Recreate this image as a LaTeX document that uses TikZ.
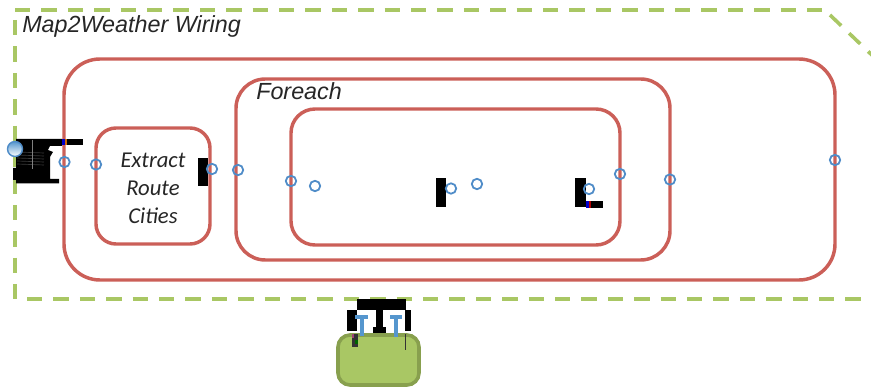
\documentclass[tikz,border=0pt]{standalone}
\usepackage{fontspec}
\setmainfont{Liberation Sans}
\newfontfamily\calfont{Carlito}
\definecolor{redline}{HTML}{CB5F58}
\definecolor{greenline}{HTML}{A9C764}
\definecolor{greendark}{HTML}{88A04E}
\definecolor{bluering}{HTML}{4F8CC8}
\definecolor{blueT}{HTML}{5596CE}
\definecolor{inkdark}{HTML}{262626}
\tikzset{
  px/.style={x=0.75pt,y=-0.75pt},
  frame/.style={draw=redline,line width=2.6pt},
  dashline/.style={greenline,line width=2.7pt,dash pattern=on 11.6pt off 8.2pt},
  port/.style={circle,draw=bluering,line width=1.35pt,fill=none,minimum size=7.8pt,inner sep=0pt},
  blob/.style={fill=black,draw=none},
  title/.style={font=\itshape\fontsize{17.5}{20}\selectfont,text=inkdark,anchor=west,inner sep=0pt},
  tag/.style={font=\calfont\itshape\fontsize{17}{21}\selectfont,text=inkdark,align=center,inner sep=0pt}
}
\begin{document}
\begin{tikzpicture}[px]
\useasboundingbox (0,0) rectangle (871,388);
% outer dashed frame
\draw[dashline] (15,10) -- (822,10);
\draw[dashline] (15,20) -- (15,300);
\draw[dashline] (27,299) -- (871,299);
\draw[dashline] (830,15) -- (875,58);
% red frames
\draw[frame,rounded corners=27pt] (64,59) rectangle (835,280);
\draw[frame,rounded corners=22pt] (236,79) rectangle (670,260);
\draw[frame,rounded corners=18pt] (291,109) rectangle (620,245);
\draw[frame,rounded corners=15pt] (96,128) rectangle (210,244);
% labels
\node[title] (wiring) at (22,26) {Map2Weather Wiring};
\node[title] (foreach) at (256,91) {Foreach};
\node[tag] (extract) at (153,188) {Extract\\Route\\Cities};
% left blob
\fill[blob] (16,139) -- (62,139) -- (62,146) -- (50,146) -- (48,150) -- (53,152) -- (50,157) -- (50,179) -- (59,179) -- (59,183.5) -- (16,183.5) -- (16,180) -- (13,180) -- (13,168) -- (16,168) -- cycle;
\foreach \yy in {152,155,158,161,164}
  \draw[gray!45!black,line width=0.5pt] (17,\yy) -- (44,\yy+1);
\draw[gray,line width=0.5pt] (32,140) -- (32,169);
\fill[blob] (62,139) rectangle (83,145);
\fill[blue!80!black] (62,139) rectangle (65,145);
\fill[orange!80!black] (65,139) rectangle (67,145);
% small black blocks
\fill[blob] (198,158) rectangle (208,186);
\fill[blob] (436,178) rectangle (446,207);
\fill[blob] (575,178) rectangle (586,207);
\fill[blob] (586,201) rectangle (603,208);
\fill[blue!80!black] (586,201) rectangle (589,208);
\fill[red!70!black] (589,201) rectangle (591,208);
% ports
\shade[top color=blueT,bottom color=white,draw=bluering,line width=1.1pt] (15,149) circle (7.5);
\foreach \n/\p in {a/{64.5,162},b/{96,164.5},c/{212,169},d/{238,170},e/{291,181},f/{315,186},g/{451,188.5},h/{477,184},i/{589,189},j/{620,174},k/{670,179.5},l/{835,160}}
  \node[port] (p\n) at (\p) {};
% bottom component
\draw[fill=greenline,draw=greendark,line width=2.7pt,rounded corners=9pt] (338,335) rectangle (419,385);
\fill[blob] (357,299) rectangle (406,310);
\fill[blob] (376,310) rectangle (383,328);
\fill[blob] (373,327) rectangle (386,333);
\fill[blob] (347,310) rectangle (357,331);
\fill[blob] (405,310) rectangle (411,331);
\fill[gray!40!black] (352,334) rectangle (358,347);
\fill[magenta!60!black] (352,334) rectangle (354,338);
\fill[green!40!black] (355,340) rectangle (358,344);
\fill[gray!40!black] (405,334) rectangle (406,350);
\fill[blueT] (355,315) rectangle (368,319);
\fill[blueT] (360,319) rectangle (364,336);
\fill[blueT] (390,315) rectangle (402,319);
\fill[blueT] (394,319) rectangle (398,337);
\end{tikzpicture}
\end{document}
